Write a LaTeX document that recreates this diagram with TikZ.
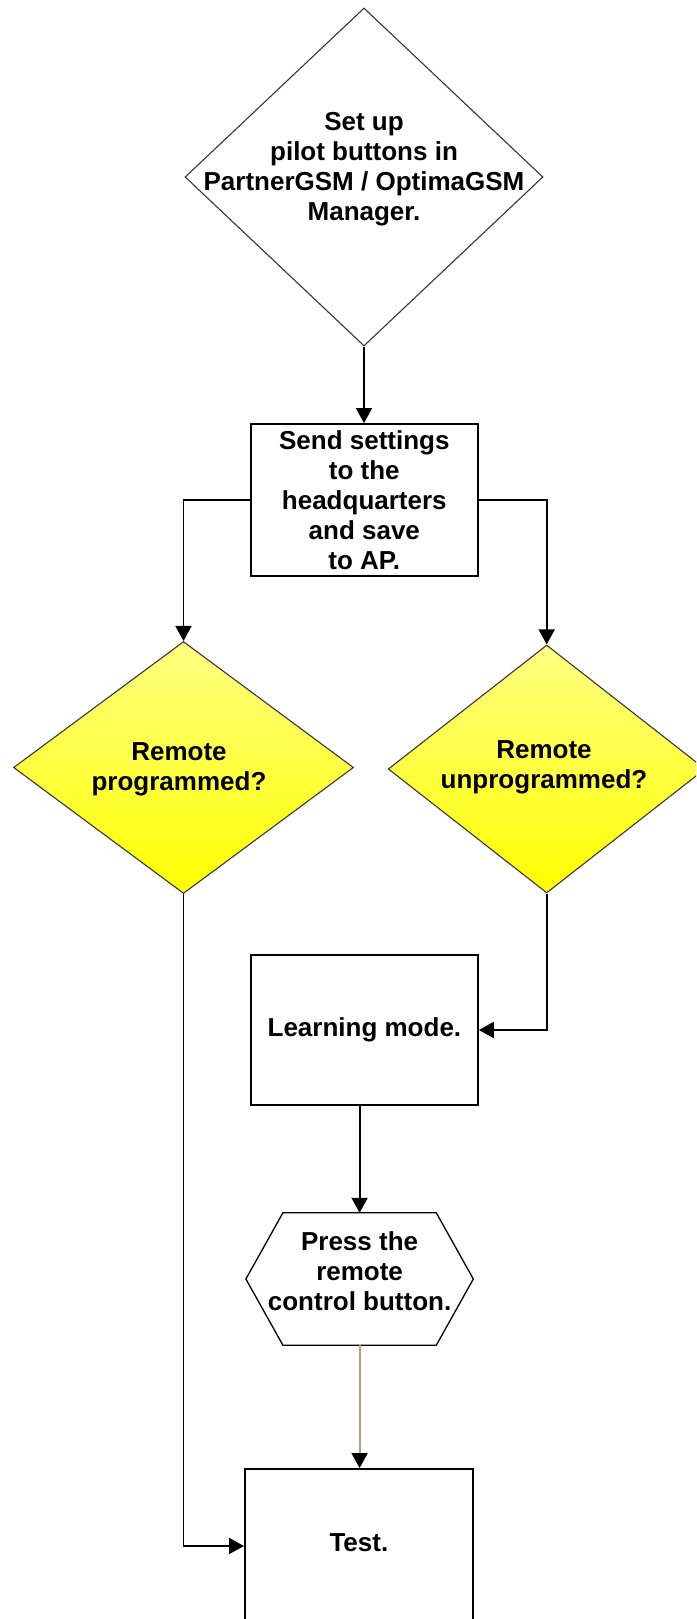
\documentclass[tikz,border=0pt]{standalone}
\usepackage{fontspec}
\setmainfont{Liberation Sans}
\usetikzlibrary{arrows.meta,shapes.geometric}
\definecolor{yelTop}{RGB}{255,255,130}
\definecolor{yelBot}{RGB}{255,255,0}
\definecolor{edgeGray}{RGB}{55,55,55}
\definecolor{tanLine}{RGB}{175,160,145}
\begin{document}
\begin{tikzpicture}[x=1pt,y=-1pt,
  txt/.style={font=\bfseries\fontsize{26}{30}\selectfont, align=center, inner sep=0pt},
  diam/.style={diamond, draw=edgeGray, line width=1.1pt, inner sep=0pt},
  decide/.style={diam, top color=yelTop, bottom color=yelBot},
  procbox/.style={rectangle, draw=black, line width=1.8pt, fill=white, txt, minimum width=227pt},
  flow/.style={draw=black, line width=1.8pt, -{Triangle[width=16pt,length=15pt]}},
  flowtip/.style={-{Triangle[width=16pt,length=15pt,black]}},
]
\useasboundingbox (0,0) rectangle (696,1619);
\clip (0,0) rectangle (696,1619);
\fill[white] (0,0) rectangle (696,1619);

% top diamond
\node[diam, fill=white, minimum width=358pt, minimum height=338pt] (setup) at (364,177) {};
\node[txt] (setupT) at (364,169) {Set up\\pilot buttons in\\PartnerGSM / OptimaGSM\\Manager.};

% send box
\node[procbox, minimum height=152pt] (send) at (364.3,500) {Send settings\\to the\\headquarters\\and save\\to AP.};

% decisions
\node[decide, minimum width=340pt, minimum height=252pt] (prog) at (183.5,767.5) {};
\node[txt] (progT) at (179,769) {Remote\\programmed?};
\node[decide, minimum width=317pt, minimum height=248pt] (unprog) at (546.7,769) {};
\node[txt] (unprogT) at (544,767) {Remote\\unprogrammed?};

% learning mode
\node[procbox, minimum height=150pt] (learn) at (364.4,1030) {Learning mode.};

% hexagon
\node[txt, minimum width=227pt, minimum height=132pt, text depth=16pt] (hex) at (359.6,1279) {Press the\\remote\\control button.};
\draw[line width=1.3pt] (hex.west) -- ([xshift=37pt]hex.north west) -- ([xshift=-37pt]hex.north east)
  -- (hex.east) -- ([xshift=-37pt]hex.south east) -- ([xshift=37pt]hex.south west) -- cycle;

% test
\node[procbox, minimum width=228pt, minimum height=154pt, text depth=6pt] (test) at (358.9,1546) {Test.};

% connectors
\draw[flow] (setup.south) -- (setup.south |- send.north);
\draw[flow] (send.west) -| (prog.north);
\draw[flow] (send.east) -| (unprog.north);
\draw[flow] (unprog.south) |- (learn.east);
\draw[flow] (learn.south -| hex.north) -- (hex.north);
\draw[flow, draw=tanLine, flowtip] (hex.south) -- (hex.south |- test.north);
\draw[flow] (prog.south) |- (test.west);
\end{tikzpicture}
\end{document}
